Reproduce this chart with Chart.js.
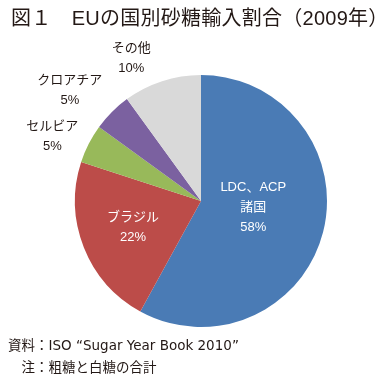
<!DOCTYPE html>
<html>
<head>
<meta charset="utf-8">
<script src="https://cdn.jsdelivr.net/npm/chart.js@4"></script>
<style>
  body { margin: 0; background: #fff; }
  #wrap { position: relative; width: 390px; height: 383px; font-family: "Liberation Sans", "Noto Sans CJK JP", sans-serif; color: #231815; }
  #title { position: absolute; left: 11px; top: 2px; font-size: 20px; letter-spacing: 0.25px; white-space: pre; }
  #note { position: absolute; left: 8px; top: 334px; font-family: "DejaVu Sans", "Noto Sans CJK JP", sans-serif; font-size: 13.5px; line-height: 22px; white-space: pre; }
  canvas { position: absolute; left: 0; top: 0; }
</style>
</head>
<body>
<div id="wrap">
  <canvas id="pie" width="390" height="383"></canvas>
  <div id="title">図１　EUの国別砂糖輸入割合（2009年）</div>
  <div id="note">資料：ISO “Sugar Year Book 2010”
　注：粗糖と白糖の合計</div>
</div>
<script>
// data
const categories = ["LDC、ACP\n諸国", "ブラジル", "セルビア", "クロアチア", "その他"];
const shares = [58, 22, 5, 5, 10];

// look
const colors = ["#4a7bb5", "#bc4c49", "#98b95a", "#7b61a0", "#d9d9d9"];
const labelColors = ["#fff", "#fff", "#231815", "#231815", "#231815"];
const labelRadius = [0.42, 0.58, 1.28, 1.36, 1.25];
const labelShift = [[1, -7], [0, 0], [-5, 9], [-10, 11], [-21, 7]];

const pieLabels = {
  id: "pieLabels",
  afterDatasetsDraw(chart) {
    const ctx = chart.ctx;
    const meta = chart.getDatasetMeta(0);
    ctx.save();
    ctx.font = "13px 'Liberation Sans', 'Noto Sans CJK JP'";
    ctx.textAlign = "center";
    ctx.textBaseline = "middle";
    meta.data.forEach((arc, i) => {
      const mid = (arc.startAngle + arc.endAngle) / 2;
      const r = arc.outerRadius * labelRadius[i];
      const x = arc.x + Math.cos(mid) * r + labelShift[i][0];
      const y = arc.y + Math.sin(mid) * r + labelShift[i][1];
      const lines = categories[i].split("\n").concat(shares[i] + "%");
      const lh = 20;
      const top = y - (lines.length - 1) * lh / 2;
      ctx.fillStyle = labelColors[i];
      lines.forEach((t, j) => ctx.fillText(t, x, top + j * lh));
    });
    ctx.restore();
  }
};

new Chart(document.getElementById("pie"), {
  type: "pie",
  data: {
    labels: categories,
    datasets: [{
      data: shares,
      backgroundColor: colors,
      borderWidth: 0
    }]
  },
  options: {
    responsive: false,
    animation: false,
    layout: { padding: { left: 75, right: 63, top: 75, bottom: 56 } },
    plugins: {
      legend: { display: false },
      tooltip: { enabled: false }
    }
  },
  plugins: [pieLabels]
});
</script>
</body>
</html>
